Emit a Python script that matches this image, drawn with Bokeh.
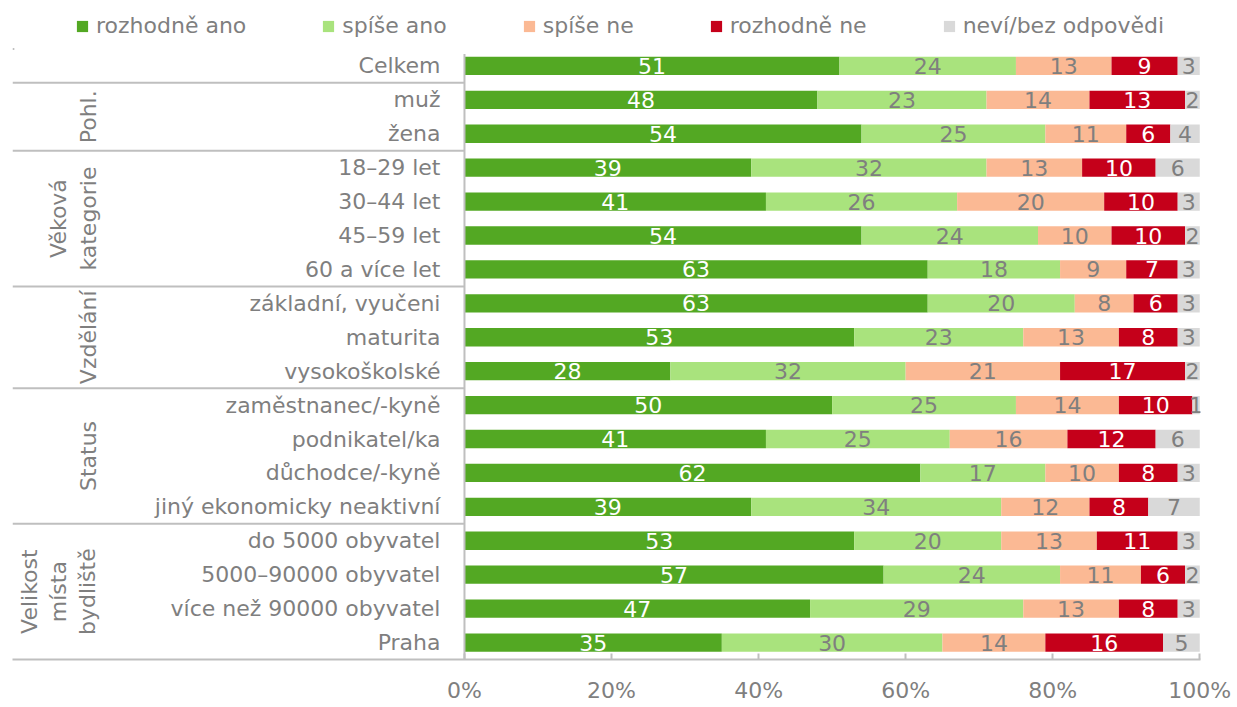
import math
from bokeh.plotting import figure
from bokeh.models import ColumnDataSource, Range1d, FixedTicker, PrintfTickFormatter, Legend, LegendItem
from bokeh.core.properties import value
from bokeh.embed import file_html
from bokeh.resources import INLINE

# ---------------- data ----------------
categories = ["Celkem", "muž", "žena", "18–29 let", "30–44 let", "45–59 let", "60 a více let",
              "základní, vyučeni", "maturita", "vysokoškolské",
              "zaměstnanec/-kyně", "podnikatel/ka", "důchodce/-kyně", "jiný ekonomicky neaktivní",
              "do 5000 obyvatel", "5000–90000 obyvatel", "více než 90000 obyvatel", "Praha"]
rozhodne_ano = [51, 48, 54, 39, 41, 54, 63, 63, 53, 28, 50, 41, 62, 39, 53, 57, 47, 35]
spise_ano    = [24, 23, 25, 32, 26, 24, 18, 20, 23, 32, 25, 25, 17, 34, 20, 24, 29, 30]
spise_ne     = [13, 14, 11, 13, 20, 10,  9,  8, 13, 21, 14, 16, 10, 12, 13, 11, 13, 14]
rozhodne_ne  = [ 9, 13,  6, 10, 10, 10,  7,  6,  8, 17, 10, 12,  8,  8, 11,  6,  8, 16]
nevi         = [ 3,  2,  4,  6,  3,  2,  3,  3,  3,  2,  1,  6,  3,  7,  3,  2,  3,  5]
series_names = ["rozhodně ano", "spíše ano", "spíše ne", "rozhodně ne", "neví/bez odpovědi"]
group_names = ["", "Pohl.", "Věková\nkategorie", "Vzdělání", "Status", "Velikost\nmísta\nbydliště"]
group_sizes = [1, 2, 4, 3, 4, 4]
x_ticks = [0, 20, 40, 60, 80, 100]

# ---------------- style ----------------
colors = ["#53A823", "#A9E37D", "#FBB994", "#C5001A", "#D9D9D9"]
label_colors = ["#FFFFFF", "#7F7F7F", "#7F7F7F", "#FFFFFF", "#7F7F7F"]
TXT = "#7F7F7F"
LINE = "#BFBFBF"
FONT = "DejaVu Sans"

n = len(categories)
ypos = [n - 1 - i for i in range(n)]
series = [rozhodne_ano, spise_ano, spise_ne, rozhodne_ne, nevi]
keys = ["s0", "s1", "s2", "s3", "s4"]

data = {"y": ypos, "cat": categories}
for k, s in zip(keys, series):
    data[k] = s
source = ColumnDataSource(data)

W, H = 1235, 705
FRAME_TOP = 0
FRAME_BOTTOM = 666          # px from top of the figure
ROW_PX = 34.28
x_start = -61.47
x_end = 100.1
y_top = -0.5 + (FRAME_BOTTOM - FRAME_TOP) / ROW_PX

p = figure(width=W, height=H, output_backend="svg", toolbar_location=None,
           x_range=Range1d(x_start, x_end), y_range=Range1d(-0.5, y_top),
           min_border_left=12, min_border_right=W - 1200, min_border_top=FRAME_TOP,
           min_border_bottom=H - FRAME_BOTTOM)
p.outline_line_color = None
p.xgrid.visible = False
p.ygrid.visible = False
p.yaxis.visible = False
p.background_fill_color = "white"

renderers = p.hbar_stack(keys, y="y", height=0.54, color=colors, source=source, line_color=None)

# data labels
left = [0] * n
for j, s in enumerate(series):
    cx = [l + v / 2 for l, v in zip(left, s)]
    left = [l + v for l, v in zip(left, s)]
    p.text(x=cx, y=ypos, text=[str(v) for v in s], text_align="center", text_baseline="middle",
           text_font=value(FONT), text_font_size="22px", text_color=label_colors[j])

# category labels (y tick labels)
p.text(x=[0] * n, y=ypos, text=categories, x_offset=-24, text_align="right", text_baseline="middle",
       text_font=value(FONT), text_font_size="22px", text_color=TXT)

# vertical axis line
p.segment(x0=[0], y0=[-0.5], x1=[0], y1=[n - 0.65], line_color=LINE, line_width=2)

# group separators & group labels
cum = 0
sep_y = []
gy = []
for name, size in zip(group_names, group_sizes):
    first = cum
    cum += size
    if cum < n:
        sep_y.append(n - 0.5 - cum)
    gy.append(n - 1 - (first + cum - 1) / 2)
p.segment(x0=[x_start] * len(sep_y), y0=sep_y, x1=[0] * len(sep_y), y1=sep_y, line_color=LINE, line_width=2)
# small mark at the top-left corner of the category block
p.segment(x0=[x_start], y0=[n - 0.5], x1=[x_start + 0.25], y1=[n - 0.5], line_color=LINE, line_width=2)

for name, yy in zip(group_names, gy):
    if not name:
        continue
    nl = name.count("\n") + 1
    p.text(x=[-51.14], y=[yy], text=[name], angle=math.pi / 2, x_offset=-(nl - 1) * 15,
           text_align="center", text_baseline="middle", text_line_height=1.17,
           text_font=value(FONT), text_font_size="22px", text_color=TXT)

# x axis
ax = p.xaxis[0]
ax.ticker = FixedTicker(ticks=x_ticks)
ax.formatter = PrintfTickFormatter(format="%d%%")
ax.axis_line_color = LINE
ax.axis_line_width = 2
ax.major_tick_line_color = LINE
ax.major_tick_line_width = 2
ax.major_tick_in = 6
ax.major_tick_out = 0
ax.minor_tick_line_color = None
ax.major_label_standoff = 18
ax.major_label_text_font = FONT
ax.major_label_text_font_size = "22px"
ax.major_label_text_color = TXT

# legend (inside the top strip of the frame)
legend = Legend(items=[LegendItem(label=nm, renderers=[r]) for nm, r in zip(series_names, renderers)],
                orientation="horizontal", location=(63, 621))
legend.label_text_font = FONT
legend.label_text_font_size = "22px"
legend.label_text_color = TXT
legend.glyph_width = 14
legend.glyph_height = 14
legend.label_standoff = 7
legend.spacing = 75
legend.padding = 5
legend.margin = 0
legend.border_line_color = None
legend.background_fill_alpha = 0
p.add_layout(legend, "center")

open("out.html", "w").write(file_html(p, INLINE))
